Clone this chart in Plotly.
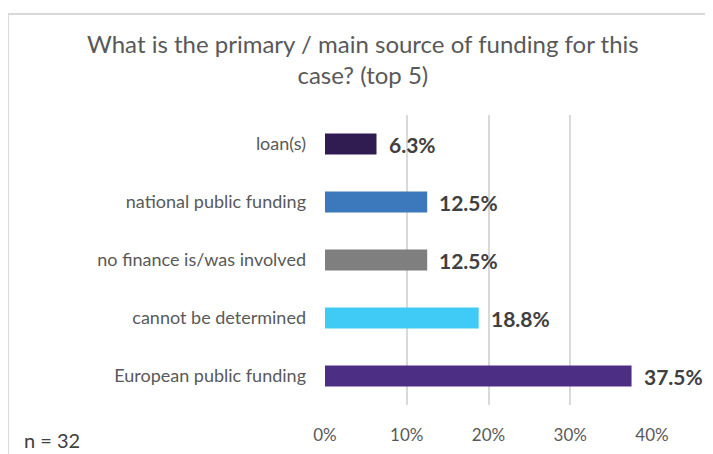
import plotly.graph_objects as go

categories = ["loan(s)", "national public funding", "no finance is/was involved",
              "cannot be determined", "European public funding"]
values = [6.3, 12.5, 12.5, 18.8, 37.5]
colors = ["#301C51", "#3B78BC", "#7F7F7F", "#40CBF7", "#4C2F85"]
tick_vals = [0, 10, 20, 30, 40]
tick_text = ["0%", "10%", "20%", "30%", "40%"]
title_text = "What is the primary / main source of funding for this<br>case? (top 5)"
note_text = "n = 32"

FONT = "Lato"
W, H = 713, 454
# page body has an 8px offset
L, R, T, B = 317, 69, 107, 57

fig = go.Figure()
fig.add_trace(go.Bar(
    y=categories, x=values, orientation="h",
    marker=dict(color=colors, line=dict(width=0)),
    width=0.36, hoverinfo="skip",
))

for c, v in zip(categories, values):
    fig.add_annotation(x=v, y=c, xref="x", yref="y", text=f"<b>{v:.1f}%</b>",
                       showarrow=False, xanchor="left", xshift=10,
                       font=dict(family=FONT, size=21, color="#404040"))

pw = W - L - R
ph = H - T - B
fig.add_annotation(x=(14 - L) / pw, y=(H - B - 432) / ph, xref="paper", yref="paper",
                   text=note_text, showarrow=False, xanchor="left", yanchor="middle",
                   font=dict(family=FONT, size=20, color="#404040"))

# title as annotation
fig.add_annotation(x=(355 - L) / pw, y=1 + (T - 51) / ph, xref="paper", yref="paper",
                   text=title_text, showarrow=False, xanchor="center", yanchor="middle",
                   align="center",
                   font=dict(family=FONT, size=24, color="#595959"))

# chart frame
fig.add_shape(type="rect", xref="paper", yref="paper",
              x0=(0 - L) / pw, x1=(760 - L) / pw,
              y0=(H - B - 520) / ph, y1=(H - B - 6) / ph,
              line=dict(color="#D9D9D9", width=2), fillcolor="rgba(0,0,0,0)", layer="below")

fig.update_layout(
    width=W, height=H,
    margin=dict(l=L, r=R, t=T, b=B),
    paper_bgcolor="white", plot_bgcolor="white",
    showlegend=False,
    font=dict(family=FONT),
    xaxis=dict(range=[0, 40], tickvals=tick_vals, ticktext=tick_text,
               showgrid=True, gridcolor="#D9D9D9", gridwidth=2,
               zeroline=False, showline=False, ticks="",
               ticklabelstandoff=18,
               tickfont=dict(family=FONT, size=17, color="#595959"), fixedrange=True),
    yaxis=dict(autorange="reversed", showgrid=False, zeroline=False, showline=False,
               ticks="", ticklabelstandoff=18,
               tickfont=dict(family=FONT, size=18, color="#595959"), fixedrange=True),
)

fig.write_html("out.html")
